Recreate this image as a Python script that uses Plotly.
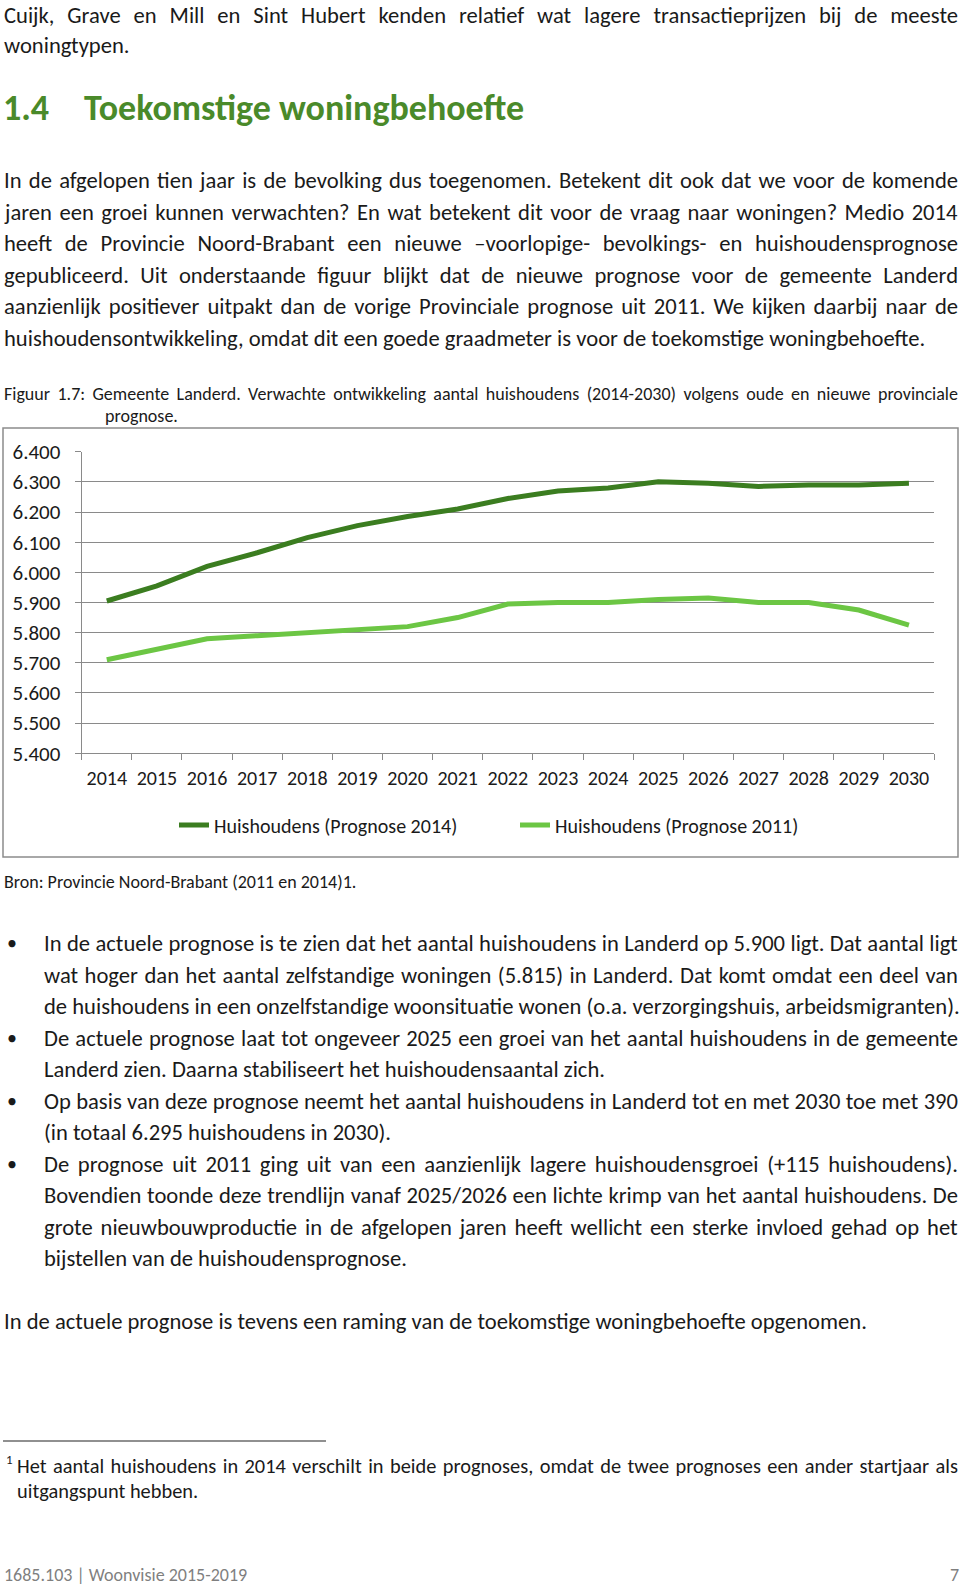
import json
import plotly.graph_objects as go

# ---------------- data ----------------
YEARS = [str(y) for y in range(2014, 2031)]
PROGNOSE_2014 = [5905, 5955, 6020, 6065, 6115, 6155, 6185, 6210, 6245, 6270,
                 6280, 6300, 6295, 6285, 6290, 6290, 6295]
PROGNOSE_2011 = [5710, 5745, 5780, 5790, 5800, 5810, 5820, 5850, 5895, 5900,
                 5900, 5910, 5915, 5900, 5900, 5875, 5825]
SERIES_NAMES = ["Huishoudens (Prognose 2014)", "Huishoudens (Prognose 2011)"]
Y_TICKS = list(range(5400, 6401, 100))
Y_TICK_LABELS = ["5.400", "5.500", "5.600", "5.700", "5.800", "5.900",
                 "6.000", "6.100", "6.200", "6.300", "6.400"]

W, H = 960, 1590
FONT = "Carlito, Calibri, Lato, sans-serif"
TXT = "#1a1a1a"
DARK = "#3b7d20"
LIGHT = "#6cc644"
GRID = "#8a8a8a"
BODY = 22.6
SMALL = 18
RIGHT = 958


def px(x):
    return x / W


def py(y):
    return 1 - y / H


fig = go.Figure()
fig.add_trace(go.Scatter(x=YEARS, y=PROGNOSE_2014, mode="lines", name=SERIES_NAMES[0],
                         line=dict(color=DARK, width=5)))
fig.add_trace(go.Scatter(x=YEARS, y=PROGNOSE_2011, mode="lines", name=SERIES_NAMES[1],
                         line=dict(color=LIGHT, width=5)))

ann = []
justify = []


def text(x, y, s, size=BODY, color=TXT, anchor="left", bold=False, just=False):
    if bold:
        s = "<b>" + s + "</b>"
    if just:
        justify.append(len(ann))
    ann.append(dict(x=px(x), y=py(y), xref="paper", yref="paper", text=s,
                    showarrow=False, xanchor=anchor, yanchor="middle", align="left",
                    borderpad=0,
                    font=dict(size=size, color=color, family=FONT)))


# top text
text(3, 15, "Cuijk, Grave en Mill en Sint Hubert kenden relatief wat lagere transactieprijzen bij de meeste", just=True)
text(3, 45, "woningtypen.")
text(2, 108, "1.4", size=36, color="#4a8a2a", bold=True)
text(83, 108, "Toekomstige woningbehoefte", size=36, color="#4a8a2a", bold=True)

para = [
    "In de afgelopen tien jaar is de bevolking dus toegenomen. Betekent dit ook dat we voor de komende",
    "jaren een groei kunnen verwachten? En wat betekent dit voor de vraag naar woningen? Medio 2014",
    "heeft de Provincie Noord-Brabant een nieuwe \u2013voorlopige- bevolkings- en huishoudensprognose",
    "gepubliceerd. Uit onderstaande figuur blijkt dat de nieuwe prognose voor de gemeente Landerd",
    "aanzienlijk positiever uitpakt dan de vorige Provinciale prognose uit 2011. We kijken daarbij naar de",
    "huishoudensontwikkeling, omdat dit een goede graadmeter is voor de toekomstige woningbehoefte.",
]
for i, s in enumerate(para):
    text(3, 180 + i * 31.6, s, just=(i < len(para) - 1))

text(3, 394, "Figuur 1.7: Gemeente Landerd. Verwachte ontwikkeling aantal huishoudens (2014-2030) volgens oude en nieuwe provinciale",
     size=SMALL, just=True)
text(104, 416, "prognose.", size=SMALL)

text(3, 882, "Bron: Provincie Noord-Brabant (2011 en 2014)1.", size=SMALL)

bullets = [
    ["In de actuele prognose is te zien dat het aantal huishoudens in Landerd op 5.900 ligt. Dat aantal ligt",
     "wat hoger dan het aantal zelfstandige woningen (5.815) in Landerd. Dat komt omdat een deel van",
     "de huishoudens in een onzelfstandige woonsituatie wonen (o.a. verzorgingshuis, arbeidsmigranten)."],
    ["De actuele prognose laat tot ongeveer 2025 een groei van het aantal huishoudens in de gemeente",
     "Landerd zien. Daarna stabiliseert het huishoudensaantal zich."],
    ["Op basis van deze prognose neemt het aantal huishoudens in Landerd tot en met 2030 toe met 390",
     "(in totaal 6.295 huishoudens in 2030)."],
    ["De prognose uit 2011 ging uit van een aanzienlijk lagere huishoudensgroei (+115 huishoudens).",
     "Bovendien toonde deze trendlijn vanaf 2025/2026 een lichte krimp van het aantal huishoudens. De",
     "grote nieuwbouwproductie in de afgelopen jaren heeft wellicht een sterke invloed gehad op het",
     "bijstellen van de huishoudensprognose."],
]
y = 943
for b in bullets:
    text(12, y, "\u2022", anchor="center", size=20)
    for j, line in enumerate(b):
        text(43, y, line, just=(j < len(b) - 1))
        y += 31.5

text(3, 1321, "In de actuele prognose is tevens een raming van de toekomstige woningbehoefte opgenomen.")

text(5, 1459, "1", size=13)
text(16, 1466, "Het aantal huishoudens in 2014 verschilt in beide prognoses, omdat de twee prognoses een ander startjaar als",
     size=20.4, just=True)
text(16, 1491, "uitgangspunt hebben.", size=20.4)

text(3, 1575, "1685.103 | Woonvisie 2015-2019", size=18, color="#7f7f7f")
text(960, 1575, "7", size=18, color="#7f7f7f", anchor="right")

shapes = [
    dict(type="rect", xref="paper", yref="paper", x0=px(3), x1=px(958), y0=py(428), y1=py(857),
         line=dict(color="#8c8c8c", width=1.5), fillcolor="rgba(0,0,0,0)", layer="below"),
    dict(type="line", xref="paper", yref="paper", x0=px(3), x1=px(326), y0=py(1441), y1=py(1441),
         line=dict(color="#222", width=1.2)),
]

fig.update_layout(
    width=W, height=H, margin=dict(l=0, r=0, t=0, b=0, autoexpand=False),
    paper_bgcolor="white", plot_bgcolor="white",
    font=dict(family=FONT, color=TXT, size=18),
    annotations=ann, shapes=shapes,
    showlegend=True,
    legend=dict(orientation="h", x=px(174), y=py(825), xanchor="left", yanchor="middle",
                font=dict(size=20, family=FONT, color=TXT), entrywidth=296,
                bgcolor="rgba(0,0,0,0)"),
    xaxis=dict(domain=[px(81.7), px(934)], type="category", range=[-0.5, 16.5],
               showline=True, linecolor=GRID, linewidth=1.2, ticks="outside", ticklen=6,
               tickcolor=GRID, tickson="boundaries", showgrid=False, automargin=False,
               tickfont=dict(size=20, family=FONT, color=TXT), ticklabelstandoff=7),
    yaxis=dict(domain=[py(753.3), py(451.7)], range=[5400, 6400], tickvals=Y_TICKS,
               ticktext=Y_TICK_LABELS, showline=True, linecolor=GRID, linewidth=1.2,
               ticks="outside", ticklen=6, tickcolor=GRID, showgrid=True, gridcolor=GRID,
               gridwidth=1.2, zeroline=False, automargin=False,
               tickfont=dict(size=21, family=FONT, color=TXT), ticklabelstandoff=10),
)

post = """
document.body.style.margin = '0';
document.body.style.overflow = 'hidden';
var JUST = %s, RIGHT = %d;
function justifyLines() {
  var gd = document.getElementById('{plot_id}');
  JUST.forEach(function (i) {
    var t = gd.querySelector('g.annotation[data-index="' + i + '"] text.annotation-text');
    if (!t) return;
    t.style.wordSpacing = '0px';
    var r = t.getBoundingClientRect();
    var gdr = gd.getBoundingClientRect();
    var n = (t.textContent.match(/ /g) || []).length;
    if (!n) return;
    var extra = (RIGHT - (r.left - gdr.left) - r.width) / n;
    t.style.wordSpacing = extra + 'px';
  });
}
justifyLines();
if (document.fonts && document.fonts.ready) { document.fonts.ready.then(justifyLines); }
""" % (json.dumps(justify), RIGHT)

fig.write_html("out.html", post_script=post, config={"displayModeBar": False})
